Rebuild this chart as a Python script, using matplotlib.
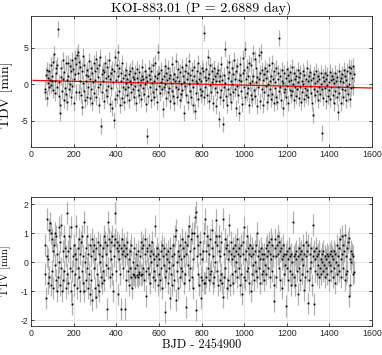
import numpy as np
import matplotlib
matplotlib.use("Agg")
import matplotlib.pyplot as plt

plt.rcParams["axes.unicode_minus"] = False

# transit ephemeris (days, BJD - 2454900)
t_first = 65.0
period = 2.6889

# transit duration variations [min], one per transit
tdv = [
    -0.6, -1.1, 1.3, 2.0, -1.9, 0.9, 0.2, 1.8, -0.3, 0.6, 2.7, -0.1, 0.4, 1.1, -0.8, 3.1, 4.2, 0.5, -1.2, 2.2,
    1.5, -0.4, 2.6, 7.6, 0.3, -1.6, -3.9, -2.8, 1.0, 2.3, -0.9, 0.8, 3.4, -2.1, 1.7, -0.5, 2.9, -1.3, 0.6, -2.4,
    1.2, 3.0, -0.7, 2.5, 0.1, -1.8, 1.9, 3.3, -0.2, 2.1, -2.6, 0.7, 3.6, 1.4, -1.0, 2.8, 4.0, 4.5, 1.6, -1.1,
    3.1, 0.4, 2.4, -1.5, -3.1, 1.8, 3.9, 0.2, -0.9, 2.7, -2.2, 1.3, 0.5, -1.7, 2.0, -0.3, 1.1, 3.2, -1.9, 0.8,
    2.3, -0.6, 1.6, -2.5, 0.3, 2.9, -1.2, 1.9, 0.6, -1.8, 3.5, 2.2, -0.4, 1.0, -2.9, 2.6, 0.1, 3.7, -5.7, 1.4,
    -1.0, 2.0, 0.5, -2.3, 1.7, 3.0, -0.8, 0.9, 2.4, -1.6, 1.2, -0.2, 3.3, 0.7, -2.7, 1.5, -0.5, 2.1, -3.3, 0.3,
    1.8, -4.9, -2.0, 3.8, 0.6, 2.7, -1.4, 1.1, 4.4, -0.9, 2.2, -2.8, 0.4, 1.6, -1.9, 3.0, -0.3, 0.9, -2.4, 1.3,
    -0.7, 0.2, 2.0, -1.5, 0.8, -0.4, 1.4, -2.2, 0.5, 1.9, -1.1, 0.0, 2.3, -0.6, 1.0, -1.8, 0.7, -0.2, 1.5, -2.6,
    0.9, 2.1, -0.8, 0.3, -1.4, 1.7, -0.1, 0.6, -2.0, 1.2, 2.4, -0.5, 0.8, -1.3, 1.8, 0.1, -2.7, 1.0, -7.1, 0.4,
    -1.6, 1.3, 2.2, -0.3, 0.7, -2.1, 1.9, 0.2, -1.0, 2.6, 0.5, -1.7, 1.1, 3.0, -0.6, 0.9, -2.4, 4.4, 1.4, -0.2,
    1.6, -1.2, 0.3, 2.0, -0.7, 0.8, -3.4, 1.2, -0.4, 2.5, 0.1, -1.9, 1.5, 0.6, -1.1, 2.2, -0.5, 0.9, -2.3, 1.3,
    0.2, -0.9, 2.8, -1.6, 0.7, 1.4, -2.5, 0.4, 3.2, -0.3, 1.0, -1.8, 2.1, -0.6, 0.5, -2.2, 1.7, 0.0, -1.3, 2.4,
    -0.8, 1.2, 0.3, -3.9, 1.9, -0.2, 2.6, -1.5, 0.8, 1.5, -2.4, 0.1, 3.2, -0.9, 1.3, -1.7, 0.6, 2.0, -0.4, -2.8,
    1.1, 2.4, -3.7, 0.5, -1.2, 1.8, 0.2, -2.0, 2.9, 0.7, -0.6, 1.6, -1.4, 0.4, 2.2, -0.9, 1.9, 7.0, -1.8, 1.0,
    -0.3, 2.1, 0.6, -1.5, 3.7, 0.9, -2.3, 1.4, -0.1, 2.6, -1.1, 0.3, 1.8, -2.6, 0.7, 2.3, -0.5, 1.2, -3.0, 0.5,
    1.6, -1.0, 2.0, -4.8, 0.4, -1.7, 1.1, 2.8, -0.8, 0.6, -2.1, -5.5, 1.3, -0.4, 4.9, 0.2, -1.6, 2.4, -2.8, 0.9,
    -0.6, 1.7, 3.1, -1.3, 0.5, -2.4, 2.2, 0.0, -1.0, 1.4, 3.4, -0.7, 0.8, -3.2, 1.9, -0.2, 2.5, -1.5, 0.6, -4.0,
    1.3, 2.8, -0.9, 0.4, -2.7, 1.6, 3.6, -0.3, 2.0, -1.8, 4.8, 0.7, -1.2, 2.4, -0.5, 1.1, -2.9, 3.0, 0.2, -1.4,
    2.6, 0.5, -2.0, 4.3, 1.2, -0.8, 3.5, -1.6, 0.3, 2.2, -3.0, 1.0, -0.4, 4.0, 0.8, -2.3, 1.5, 4.4, -0.6, 2.0,
    -2.9, 0.6, 1.4, -1.1, 2.3, -0.2, 0.9, -2.4, 1.8, 0.1, -1.5, 2.7, -0.7, 0.4, -2.0, 1.2, 3.0, -1.3, 0.7, -2.6,
    1.9, -0.5, 0.3, -1.8, 2.2, -2.4, 0.8, 1.5, -0.9, 6.4, -0.3, 1.1, -2.1, 0.5, 2.0, -3.3, 0.2, -1.0, 1.6, -0.6,
    0.9, -1.7, 2.1, -0.2, 1.3, -2.5, 0.4, -0.8, 1.7, -1.4, 0.6, 2.4, -0.9, 0.1, -2.2, 1.5, -0.4, 0.8, -1.6, 1.2,
    -0.7, 2.0, 0.3, -1.9, 1.0, -0.3, 1.6, -2.4, 0.5, -1.1, 1.8, 0.0, -2.0, 1.3, -0.5, 0.7, -1.5, 2.2, -0.8, 0.4,
    -1.8, 1.1, -0.2, 1.7, -1.2, 0.6, -2.6, -4.2, 0.9, -0.6, 1.4, -1.5, 0.2, 1.9, -0.9, 0.5, -2.1, 1.2, -0.4, 0.8,
    -1.3, 1.6, 0.1, -6.7, -0.7, 1.0, -1.9, 0.4, 1.5, -0.5, -2.3, 0.8, -0.1, 1.3, -1.6, 0.3, -0.8, 1.7, -2.0, 0.6,
    -0.4, 1.1, -1.4, 0.7, -2.6, 0.2, 1.5, -0.9, 0.5, -1.8, 1.0, -3.8, -0.3, 1.9, -1.2, 0.4, -2.5, 0.9, -0.6, 1.4,
    -1.7, 0.3, 2.0, -0.8, 1.2, -2.2, 0.6, -0.2, 1.8, -1.3, 2.4, 0.1, -2.0, 1.6, -0.5, 2.2, 0.9, 2.5, -0.3, 1.4,
]

# transit timing variations [min]
ttv = [
    0.6, -0.4, -1.25, 1.5, 0.2, -0.7, 0.1, 1.1, -0.5, 1.35, 1.0, -0.8, 0.8, -0.3, 0.4, -0.9, 0.6, -0.1, 1.0, -0.6,
    0.9, -1.0, 0.3, -0.5, 1.2, 0.0, -0.8, 0.7, -0.2, 1.3, -1.0, 0.4, -0.6, 0.9, -0.3, 0.5, -0.9, 0.2, 1.7, -0.4,
    0.4, -0.7, 0.9, -0.2, 0.5, -1.0, 1.2, -0.3, -1.45, 0.2, 0.6, -0.8, 0.3, -0.4, 1.25, 0.1, -0.9, 0.5, -0.2, 0.8,
    -0.5, 0.3, -1.0, 0.7, -0.3, 0.9, -0.7, 0.2, -1.0, 1.4, 0.0, -0.6, 0.5, -0.2, 0.9, -0.9, 0.3, -0.4, 0.6, -1.1,
    0.2, -0.6, 0.8, -1.3, 0.4, -0.2, 0.6, -0.9, 0.1, -1.2, 0.5, -0.4, 0.7, -0.8, 0.3, -1.0, 0.0, 0.6, -0.5, 0.2,
    -0.7, 0.5, -0.3, 0.9, -0.6, 0.7, -0.1, 0.3, -1.6, 0.6, 1.4, -0.2, 0.8, -0.5, 0.4, 0.1, 0.7, -0.4, 0.9, -1.0,
    0.6, 0.2, 0.8, 1.7, -0.3, 0.5, 0.7, -1.1, 0.4, 0.1, 0.6, -0.4, -1.6, 0.5, 0.3, 0.8, -0.2, 0.4, 0.6, -1.6,
    0.2, 0.5, -0.6, 0.3, 0.7, -0.3, 0.1, -0.8, 0.4, -0.2, -0.5, 0.6, -0.9, 0.0, -0.4, 0.5, -0.45, -0.2, -0.5, 0.3,
    -0.45, -0.1, -0.5, 0.4, -0.4, -0.35, 0.2, -0.45, 0.7, -0.4, 0.5, -0.2, 0.6, -0.6, 0.3, 0.8, -0.3, -1.15, 0.4, 0.5,
    -0.2, 0.6, -0.4, 0.2, -0.7, 0.4, 0.0, 0.7, -0.5, 0.3, -0.3, 0.1, 1.25, -0.6, 0.2, -0.1, 0.5, -0.8, 0.3, -0.4,
    0.1, -0.6, 0.4, -0.2, 0.6, -0.9, 0.2, -0.1, 0.5, -0.5, -1.7, 0.3, -0.3, 0.1, -0.7, 0.4, -0.2, 0.0, -1.25, 0.5,
    -0.4, 0.2, -0.8, 0.6, -0.1, 0.3, -0.6, 0.9, 1.1, -1.3, 0.0, -0.3, 0.4, -0.9, 0.2, 0.6, -0.5, 0.1, -0.2, 0.8,
    -0.3, 0.5, -0.7, 0.2, 0.7, -0.4, 0.3, -1.55, 0.6, -0.1, 0.9, 1.25, -0.6, 0.4, -0.2, 0.8, -0.5, 1.0, 0.1, -0.9,
    0.5, 1.0, 1.55, -1.65, 1.75, 0.2, 0.9, -0.4, 0.6, -0.8, 0.3, 0.7, -0.5, -1.25, 0.1, -0.6, 0.4, -0.7, 1.0, 1.5,
    -0.7, 0.4, -0.5, 0.9, -0.2, 0.6, -0.6, 0.3, -0.4, 0.8, -0.3, 0.5, 1.1, -0.7, 0.2, -0.5, 0.7, 0.0, 0.9, 1.45,
    -0.3, 0.6, -0.8, 0.4, 0.9, -0.6, 0.2, -0.4, 0.7, -0.7, -1.2, 1.48, -0.5, 0.3, 0.8, -0.2, 0.5, -0.9, 0.6, 0.1,
    -0.6, 0.4, 1.3, -0.8, 0.3, 0.7, -0.4, 0.1, 0.5, -0.7, 0.2, 0.6, -0.3, 0.4, 0.0, 0.8, -0.5, 0.3, -0.2, 0.5,
    -0.8, 0.2, 0.6, -0.4, -1.1, 0.3, 0.7, -0.5, 1.2, 0.1, -0.6, 0.4, 0.9, -0.3, 0.5, -0.2, 0.3, -0.7, 0.6, -1.0,
    0.2, -0.4, 0.5, -0.1, 0.3, -0.6, 0.4, 0.0, -0.3, 0.6, 1.0, -0.5, 0.2, -0.2, 0.4, -0.7, 0.1, 0.5, -0.4, 0.3,
    -0.3, 0.1, -0.6, 0.3, -0.1, 0.5, -0.4, 0.2, 0.6, -0.2, 0.4, 0.7, -0.5, 0.3, 0.8, 0.1, -0.3, 0.6, 0.2, -0.8,
    -1.35, 0.5, 0.8, 0.2, -0.5, 0.6, 0.3, 0.9, -0.2, 0.7, 0.4, -0.6, 0.5, 0.1, -0.9, 0.6, 0.2, -0.4, 0.3, -0.1,
    -1.5, 0.3, -0.2, 0.4, -0.6, 0.1, 0.5, -0.3, 0.2, -0.8, 0.3, 0.0, -0.4, 1.4, 0.2, -0.5, 0.3, -0.8, 0.1, 0.4,
    -0.3, -1.1, 0.2, 0.5, -0.2, 0.3, -0.6, 0.4, 0.1, -0.4, 0.6, -0.1, -0.95, 0.3, -0.5, 0.2, 0.7, -0.3, 0.4, -1.4,
    0.6, -0.6, 0.3, -0.2, 0.5, 0.0, -0.8, 1.3, 0.2, -1.45, 0.4, -0.3, 0.1, 0.5, -0.4, 0.2, -0.1, 0.3, -0.5, 0.4,
    -0.2, 0.1, -0.4, 0.3, 0.0, -0.3, 0.4, -0.1, 0.2, -0.5, 0.1, -0.2, 0.3, -0.4, 0.2, 0.0, -0.6, 0.3, -0.1, 0.4,
    -0.3, 0.2, -0.5, 0.1, 0.4, -0.2, 0.3, -0.7, 0.0, 0.6, -0.4, 0.2, -0.1, 0.5, -0.3, 0.8, 0.1, -0.5, 0.9, 0.3,
    -0.2, 0.6, 0.4, -0.6, 0.95, 0.2, -0.4, 0.5, -0.3, 0.7, -1.15, 0.85, 0.1, -0.8, 0.4, 0.0, 0.3, -0.4, 0.2, -0.35,
]

tdv_err = 1.1     # min
ttv_err = 0.38    # min

# linear trend fitted to TDV
trend_x = [10, 1600]
trend_y = [0.55, -0.5]

t = t_first + period * np.arange(len(tdv))

SERIF = "cmr10"
BAR = dict(fmt="s", color="black", ms=1.3, mew=0, ecolor="#b2b2b2",
           elinewidth=0.9, capsize=0)


def _style(ax):
    ax.set_xlim(0, 1600)
    ax.set_xticks(np.arange(0, 1601, 200))
    ax.grid(True, color="#e3e3e3", linewidth=0.6)
    ax.set_axisbelow(True)
    ax.tick_params(direction="in", length=2.5, width=0.6, labelsize=6.3,
                   top=True, right=True, colors="#262626", pad=2)
    for lab in ax.get_xticklabels() + ax.get_yticklabels():
        lab.set_family("Liberation Sans")
    for s in ax.spines.values():
        s.set_color("#262626")
        s.set_linewidth(0.6)


fig = plt.figure(figsize=(3.82, 3.55), dpi=100)
ax1 = fig.add_axes([0.0812, 0.586, 0.8927, 0.369])
ax2 = fig.add_axes([0.0812, 0.0817, 0.8927, 0.364])

ax1.errorbar(t, tdv, yerr=tdv_err, **BAR)
ax1.plot(trend_x, trend_y, color="red", linewidth=0.9)
ax1.set_ylim(-8.6, 9.4)
ax1.set_yticks([-5, 0, 5])
ax1.set_title("KOI-883.01 (P = 2.6889 day)", family=SERIF, fontsize=10, pad=3)
_style(ax1)
ax1.set_ylabel("TDV [min]", family=SERIF, fontsize=10)
ax1.yaxis.set_label_coords(-0.052, 0.40)

ax2.errorbar(t, ttv, yerr=ttv_err, **BAR)
ax2.set_ylim(-2.2, 2.26)
ax2.set_yticks([-2, -1, 0, 1, 2])
_style(ax2)
ax2.set_ylabel("TTV [min]", family=SERIF, fontsize=7.8)
ax2.yaxis.set_label_coords(-0.058, 0.425)
ax2.set_xlabel("BJD - 2454900", family=SERIF, fontsize=8.8, labelpad=1)

fig.savefig("out.png", dpi=100)
